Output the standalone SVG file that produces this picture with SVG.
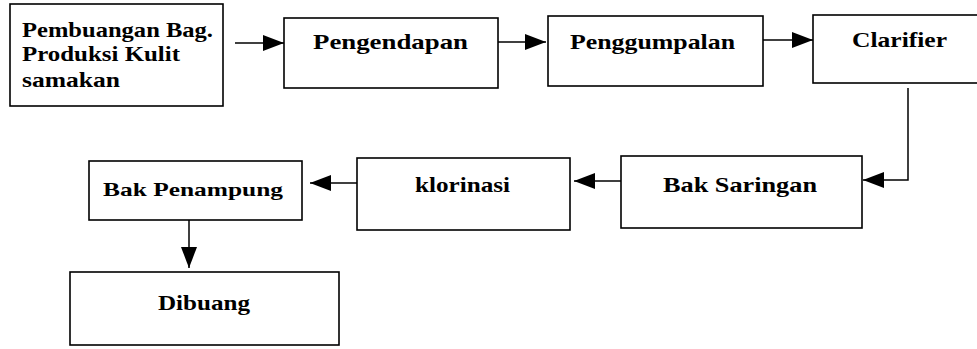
<svg xmlns="http://www.w3.org/2000/svg" width="977" height="349" viewBox="0 0 977 349">
<style>
.box{fill:#fff;stroke:#000;stroke-width:1.6}
.c{fill:none;stroke:#000;stroke-width:1.5}
</style>
<defs>
<marker id="ah" markerUnits="userSpaceOnUse" markerWidth="21" markerHeight="16" refX="21" refY="8" orient="auto">
<path d="M0,0 L21,8 L0,16 z" fill="#000"/>
</marker>
</defs>
<rect width="977" height="349" fill="#fff"/>
<g font-family="Liberation Serif, Times New Roman, DejaVu Serif, serif" font-weight="bold" font-size="21" fill="#000">
<g id="n1">
<rect class="box" x="10" y="4" width="213" height="102"/>
<text x="22" y="37" textLength="191" lengthAdjust="spacingAndGlyphs">Pembuangan Bag.</text>
<text x="22" y="61" textLength="158" lengthAdjust="spacingAndGlyphs">Produksi Kulit</text>
<text x="22" y="87" textLength="98" lengthAdjust="spacingAndGlyphs">samakan</text>
</g>
<g id="n2">
<rect class="box" x="284" y="18" width="214" height="70"/>
<text x="313" y="49" textLength="155" lengthAdjust="spacingAndGlyphs">Pengendapan</text>
</g>
<g id="n3">
<rect class="box" x="548" y="16" width="215" height="70"/>
<text x="570" y="49" textLength="165" lengthAdjust="spacingAndGlyphs">Penggumpalan</text>
</g>
<g id="n4">
<rect class="box" x="813" y="15" width="200" height="68"/>
<text x="852" y="47" textLength="95" lengthAdjust="spacingAndGlyphs">Clarifier</text>
</g>
<g id="n5">
<rect class="box" x="621" y="156" width="241" height="72"/>
<text x="663" y="192" textLength="154" lengthAdjust="spacingAndGlyphs">Bak Saringan</text>
</g>
<g id="n6">
<rect class="box" x="357" y="158" width="213" height="72"/>
<text x="415" y="192" textLength="95" lengthAdjust="spacingAndGlyphs">klorinasi</text>
</g>
<g id="n7">
<rect class="box" x="89" y="161" width="213" height="59"/>
<text x="103" y="196" font-size="19" textLength="180" lengthAdjust="spacingAndGlyphs">Bak Penampung</text>
</g>
<g id="n8">
<rect class="box" x="70" y="272" width="269" height="73"/>
<text x="158" y="310" textLength="92" lengthAdjust="spacingAndGlyphs">Dibuang</text>
</g>
</g>
<g id="connectors">
<line class="c" x1="235" y1="43" x2="284" y2="43" marker-end="url(#ah)"/>
<line class="c" x1="498" y1="42" x2="546" y2="42" marker-end="url(#ah)"/>
<line class="c" x1="763" y1="40" x2="813" y2="40" marker-end="url(#ah)"/>
<polyline class="c" points="908,88 908,180 863,180" marker-end="url(#ah)"/>
<line class="c" x1="621" y1="181" x2="574" y2="181" marker-end="url(#ah)"/>
<line class="c" x1="357" y1="183" x2="310" y2="183" marker-end="url(#ah)"/>
<line class="c" x1="189" y1="220" x2="189" y2="268" marker-end="url(#ah)"/>
</g>
</svg>
